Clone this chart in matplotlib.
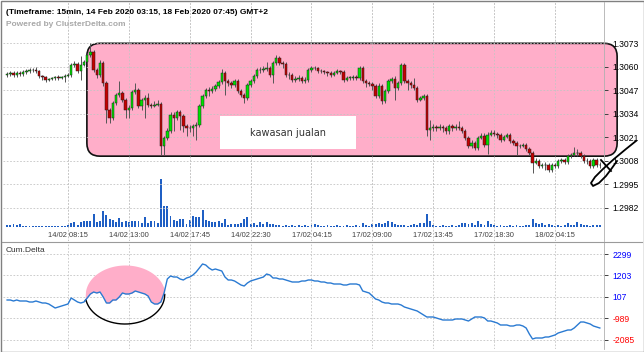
import numpy as np
import matplotlib
matplotlib.use('Agg')
import matplotlib.pyplot as plt
from matplotlib.patches import FancyBboxPatch, Rectangle
from matplotlib.lines import Line2D
from matplotlib.transforms import IdentityTransform, blended_transform_factory

plt.rcParams['font.family'] = ['Liberation Sans', 'DejaVu Sans']

# ---------------- data ----------------
closes = [1.30560, 1.30565, 1.30554, 1.30565, 1.30560, 1.30571, 1.30576, 1.30582, 1.30582, 1.30576,
          1.30549, 1.30543, 1.30526, 1.30532, 1.30538, 1.30543, 1.30538, 1.30543, 1.30549, 1.30554,
          1.30610, 1.30615, 1.30576, 1.30610, 1.30626, 1.30665, 1.30682, 1.30582, 1.30554, 1.30621,
          1.30510, 1.30360, 1.30316, 1.30399, 1.30443, 1.30454, 1.30416, 1.30360, 1.30371, 1.30460,
          1.30471, 1.30382, 1.30416, 1.30427, 1.30388, 1.30382, 1.30388, 1.30394, 1.30161, 1.30205,
          1.30244, 1.30333, 1.30316, 1.30349, 1.30327, 1.30271, 1.30260, 1.30260, 1.30271, 1.30277,
          1.30382, 1.30438, 1.30471, 1.30465, 1.30477, 1.30493, 1.30515, 1.30565, 1.30521, 1.30510,
          1.30499, 1.30521, 1.30465, 1.30443, 1.30427, 1.30499, 1.30521, 1.30549, 1.30582, 1.30582,
          1.30587, 1.30593, 1.30554, 1.30621, 1.30648, 1.30621, 1.30615, 1.30554, 1.30554, 1.30526,
          1.30532, 1.30538, 1.30521, 1.30526, 1.30582, 1.30593, 1.30593, 1.30576, 1.30576, 1.30571,
          1.30565, 1.30554, 1.30565, 1.30576, 1.30571, 1.30526, 1.30538, 1.30538, 1.30543, 1.30538,
          1.30593, 1.30521, 1.30510, 1.30504, 1.30493, 1.30438, 1.30493, 1.30410, 1.30465, 1.30521,
          1.30532, 1.30482, 1.30510, 1.30610, 1.30521, 1.30510, 1.30499, 1.30482, 1.30416, 1.30427,
          1.30438, 1.30249, 1.30260, 1.30266, 1.30260, 1.30266, 1.30260, 1.30244, 1.30271, 1.30260,
          1.30266, 1.30260, 1.30244, 1.30205, 1.30161, 1.30177, 1.30149, 1.30205, 1.30216, 1.30166,
          1.30222, 1.30233, 1.30227, 1.30222, 1.30194, 1.30210, 1.30222, 1.30188, 1.30177, 1.30161,
          1.30161, 1.30166, 1.30144, 1.30122, 1.30066, 1.30077, 1.30050, 1.30055, 1.30055, 1.30027,
          1.30055, 1.30050, 1.30077, 1.30083, 1.30072, 1.30105, 1.30111, 1.30122, 1.30122, 1.30105,
          1.30077, 1.30077, 1.30050, 1.30083, 1.30055, 1.30055]
first_open = 1.30554

highs = [1.30571, 1.30576, 1.30576, 1.30576, 1.30576, 1.30582, 1.30587, 1.30593, 1.30593, 1.30599,
         1.30582, 1.30554, 1.30549, 1.30538, 1.30543, 1.30549, 1.30554, 1.30549, 1.30560, 1.30565,
         1.30621, 1.30632, 1.30626, 1.30660, 1.30637, 1.30676, 1.30732, 1.30693, 1.30593, 1.30637,
         1.30632, 1.30521, 1.30371, 1.30410, 1.30454, 1.30521, 1.30465, 1.30427, 1.30388, 1.30471,
         1.30510, 1.30482, 1.30427, 1.30443, 1.30454, 1.30399, 1.30410, 1.30416, 1.30405, 1.30216,
         1.30260, 1.30349, 1.30349, 1.30360, 1.30360, 1.30338, 1.30283, 1.30277, 1.30283, 1.30294,
         1.30394, 1.30449, 1.30482, 1.30488, 1.30493, 1.30504, 1.30526, 1.30587, 1.30576, 1.30532,
         1.30521, 1.30532, 1.30532, 1.30477, 1.30454, 1.30510, 1.30532, 1.30560, 1.30593, 1.30599,
         1.30604, 1.30626, 1.30604, 1.30632, 1.30665, 1.30660, 1.30632, 1.30626, 1.30571, 1.30565,
         1.30549, 1.30554, 1.30549, 1.30543, 1.30593, 1.30604, 1.30604, 1.30599, 1.30587, 1.30582,
         1.30576, 1.30576, 1.30576, 1.30587, 1.30582, 1.30582, 1.30549, 1.30549, 1.30554, 1.30554,
         1.30604, 1.30604, 1.30532, 1.30521, 1.30515, 1.30504, 1.30510, 1.30504, 1.30477, 1.30532,
         1.30543, 1.30549, 1.30521, 1.30621, 1.30621, 1.30532, 1.30521, 1.30538, 1.30493, 1.30438,
         1.30449, 1.30449, 1.30305, 1.30283, 1.30277, 1.30283, 1.30277, 1.30271, 1.30283, 1.30283,
         1.30283, 1.30299, 1.30271, 1.30255, 1.30216, 1.30194, 1.30188, 1.30216, 1.30233, 1.30233,
         1.30238, 1.30249, 1.30249, 1.30238, 1.30233, 1.30222, 1.30233, 1.30233, 1.30199, 1.30188,
         1.30172, 1.30177, 1.30177, 1.30155, 1.30133, 1.30094, 1.30088, 1.30066, 1.30072, 1.30066,
         1.30066, 1.30066, 1.30088, 1.30094, 1.30094, 1.30116, 1.30122, 1.30155, 1.30144, 1.30133,
         1.30116, 1.30094, 1.30088, 1.30094, 1.30094, 1.30072]

lows = [1.30543, 1.30549, 1.30543, 1.30543, 1.30549, 1.30549, 1.30560, 1.30565, 1.30571, 1.30565,
        1.30538, 1.30526, 1.30515, 1.30521, 1.30526, 1.30526, 1.30526, 1.30532, 1.30515, 1.30543,
        1.30543, 1.30599, 1.30565, 1.30526, 1.30604, 1.30621, 1.30654, 1.30571, 1.30538, 1.30543,
        1.30493, 1.30288, 1.30288, 1.30305, 1.30388, 1.30432, 1.30405, 1.30316, 1.30316, 1.30360,
        1.30449, 1.30371, 1.30360, 1.30316, 1.30377, 1.30371, 1.30377, 1.30382, 1.30111, 1.30111,
        1.30194, 1.30233, 1.30244, 1.30305, 1.30249, 1.30238, 1.30216, 1.30238, 1.30216, 1.30194,
        1.30266, 1.30371, 1.30427, 1.30438, 1.30454, 1.30465, 1.30482, 1.30504, 1.30443, 1.30493,
        1.30482, 1.30488, 1.30454, 1.30432, 1.30399, 1.30416, 1.30488, 1.30510, 1.30538, 1.30565,
        1.30571, 1.30576, 1.30543, 1.30510, 1.30610, 1.30610, 1.30593, 1.30543, 1.30532, 1.30515,
        1.30515, 1.30521, 1.30510, 1.30510, 1.30515, 1.30571, 1.30582, 1.30565, 1.30565, 1.30560,
        1.30549, 1.30543, 1.30549, 1.30560, 1.30560, 1.30515, 1.30521, 1.30526, 1.30526, 1.30526,
        1.30526, 1.30510, 1.30488, 1.30493, 1.30471, 1.30427, 1.30427, 1.30394, 1.30399, 1.30454,
        1.30510, 1.30416, 1.30471, 1.30499, 1.30510, 1.30471, 1.30482, 1.30471, 1.30405, 1.30410,
        1.30416, 1.30216, 1.30194, 1.30244, 1.30244, 1.30249, 1.30238, 1.30227, 1.30227, 1.30244,
        1.30249, 1.30249, 1.30233, 1.30194, 1.30149, 1.30149, 1.30138, 1.30138, 1.30199, 1.30155,
        1.30116, 1.30216, 1.30216, 1.30205, 1.30183, 1.30188, 1.30205, 1.30177, 1.30166, 1.30111,
        1.30149, 1.30155, 1.30133, 1.30111, 1.30011, 1.30061, 1.30039, 1.30039, 1.30027, 1.30016,
        1.30016, 1.30039, 1.30039, 1.30066, 1.30061, 1.30061, 1.30094, 1.30105, 1.30105, 1.30094,
        1.30066, 1.30061, 1.30039, 1.30039, 1.30044, 1.30039]

volumes = [2, 2, 3, 2, 3, 1, 1, 1, 1, 1, 1, 1, 1, 1, 1, 1, 1, 1, 1, 2,
           4, 5, 2, 5, 6, 6, 6, 13, 5, 6, 16, 12, 8, 7, 5, 9, 5, 6, 5, 6,
           6, 6, 4, 10, 4, 6, 6, 4, 48, 21, 21, 11, 7, 6, 8, 8, 3, 7, 11, 10,
           10, 17, 7, 6, 5, 5, 6, 4, 8, 2, 3, 3, 3, 4, 8, 10, 3, 4, 2, 5,
           3, 5, 3, 3, 2, 2, 1, 2, 1, 2, 1, 2, 1, 2, 1, 2, 3, 2, 1, 1,
           2, 1, 1, 2, 1, 1, 2, 1, 1, 2, 1, 4, 2, 1, 3, 3, 4, 3, 4, 6,
           5, 3, 2, 2, 2, 1, 2, 3, 2, 4, 4, 13, 6, 2, 1, 1, 2, 1, 1, 2,
           1, 2, 4, 4, 3, 4, 2, 6, 3, 2, 6, 3, 2, 1, 2, 1, 1, 2, 1, 2,
           1, 1, 2, 2, 8, 4, 3, 4, 2, 3, 2, 1, 2, 1, 2, 4, 2, 2, 5, 3,
           2, 2, 1, 2, 2, 2]

cum_delta = [-47, -47, -98, -47, -98, -98, -98, -149, -149, -98,
             -149, -200, -200, -251, -353, -455, -404, -353, -302, -251,
             55, -47, -149, -200, -149, 55, 259, 361, 310, 361,
             106, -200, -200, -47, -47, 106, 310, 259, 259, 310,
             412, 361, 310, 259, 157, -149, -251, -251, -149, 310,
             1024, 1177, 1126, 1126, 1024, 973, 1075, 1126, 1228, 1381,
             1585, 1789, 1738, 1585, 1483, 1534, 1483, 1432, 1126, 973,
             973, 922, 820, 718, 667, 820, 922, 973, 1024, 1075,
             1126, 1279, 1228, 1075, 1075, 1024, 1024, 973, 922, 871,
             871, 871, 922, 922, 973, 973, 922, 922, 871, 871,
             820, 820, 769, 769, 769, 718, 718, 769, 769, 769,
             718, 412, 361, 310, 157, 4, -47, -149, -200, -200,
             -251, -251, -251, -302, -404, -455, -506, -557, -608, -710,
             -812, -914, -914, -914, -965, -1016, -1067, -1067, -1067, -1067,
             -1016, -1016, -1016, -1067, -1118, -1016, -914, -914, -914, -965,
             -1118, -1118, -1169, -1220, -1322, -1322, -1322, -1373, -1373, -1322,
             -1322, -1373, -1475, -1781, -2036, -1985, -1985, -1985, -1934, -1934,
             -1883, -1832, -1730, -1679, -1628, -1577, -1577, -1475, -1322, -1169,
             -1169, -1220, -1271, -1373, -1424, -1475]

time_tick_bars = [19, 38, 57, 76, 95, 114, 133, 152, 171]
time_tick_labels = ["14/02 08:15", "14/02 13:00", "14/02 17:45", "14/02 22:30", "17/02 04:15",
                    "17/02 09:00", "17/02 13:45", "17/02 18:30", "18/02 04:15"]
price_ticks = [1.2982, 1.2995, 1.3008, 1.3021, 1.3034, 1.3047, 1.3060, 1.3073]
delta_ticks = [2299, 1203, 107, -989, -2085]

title = "(Timeframe: 15min, 14 Feb 2020 03:15, 18 Feb 2020 07:45) GMT+2"
subtitle = "Powered by ClusterDelta.com"
note = "kawasan jualan"

# ---------------- figure ----------------
W, H = 644, 352
fig = plt.figure(figsize=(W / 100, H / 100), dpi=100)
fig.patch.set_facecolor('white')


def rect(l, t, r, b):
    return [l / W, 1 - b / H, (r - l) / W, (b - t) / H]


ax_v = fig.add_axes(rect(3, 2, 604, 241))
ax1 = fig.add_axes(rect(3, 2, 604, 241))
ax2 = fig.add_axes(rect(3, 242, 604, 349))
ax_v.set_zorder(0)
ax1.set_zorder(1)
ax1.patch.set_alpha(0)

n = len(closes)
x = np.arange(n)
opens = np.array([first_open] + closes[:-1])
c = np.array(closes)
XL = (-1.28, 186.3)
for a in (ax_v, ax1, ax2):
    a.set_xlim(*XL)

ax1.set_ylim(1.29635, 1.30959)
ax_v.set_ylim(-14, 225)
ax2.set_ylim(-2546, 2911)

grid_kw = dict(color='#c4c4c4', lw=0.6, ls=(0, (2, 2)), zorder=1)
for p in price_ticks:
    ax1.axhline(p, **grid_kw)
for d in delta_ticks:
    ax2.axhline(d, **grid_kw)
for t in time_tick_bars:
    ax1.axvline(t, **grid_kw)
    ax2.axvline(t, **grid_kw)
    ax_v.axvline(t, **grid_kw)

# volume
ax_v.bar(x, volumes, width=0.6, color='#1f5fc4', zorder=2)
ax_v.axis('off')

# pink sell zone box (annotation)
fig.canvas.draw()
x0, y0 = ax1.transData.transform((24.9, 1.30105))
x1, y1 = ax1.transData.transform((190.4, 1.3073))
box = FancyBboxPatch((x0, y0), x1 - x0, y1 - y0,
                     boxstyle='round,pad=0,rounding_size=13',
                     transform=IdentityTransform(), facecolor='#FFAEC9',
                     edgecolor='#111111', lw=1.2, zorder=0.5, clip_on=False)
ax1.add_patch(box)

# white note box
ax1.add_patch(Rectangle((66.4, 1.30144), 42.5, 0.00183, facecolor='white',
                        edgecolor='none', zorder=2))
ax1.text(87.6, 1.30236, note, ha='center', va='center', fontsize=7,
         family='DejaVu Sans', color='#333333', zorder=3)

# candles
up = c >= opens
colors = np.where(up, '#00e000', '#c40000')
bottoms = np.minimum(opens, c)
heights = np.maximum(np.abs(c - opens), 0.00003)
ax1.vlines(x, lows, highs, color='#555555', lw=0.7, zorder=3)
ax1.bar(x, heights, bottom=bottoms, width=0.75, color=colors,
        edgecolor='#202020', linewidth=0.35, zorder=4)

# time labels
trans = blended_transform_factory(ax1.transData, ax1.transAxes)
for t, lab in zip(time_tick_bars, time_tick_labels):
    ax1.text(t, 0.025, lab, transform=trans, ha='center', va='center',
             fontsize=5.4, color='#404040', zorder=5)

# axes styling
for a in (ax1, ax2):
    a.set_xticks([])
    for s in ('left', 'top', 'bottom'):
        a.spines[s].set_visible(False)
    a.spines['right'].set_color('#b0b0b0')
    a.spines['right'].set_linestyle((0, (1, 1)))
    a.spines['right'].set_linewidth(0.6)
    a.yaxis.tick_right()
    a.tick_params(axis='y', length=3, width=0.7, color='#404040', pad=3,
                  labelsize=6.2)

ax1.set_yticks(price_ticks)
ax1.set_yticklabels(['%.4f' % p for p in price_ticks])

ax2.set_yticks(delta_ticks)
ax2.set_yticklabels([str(d) for d in delta_ticks])
for lab, d in zip(ax2.get_yticklabels(), delta_ticks):
    lab.set_color('#0000ff' if d > 0 else '#ff0000')

# cum delta line
ax2.plot(x, cum_delta, color='#2a7ad2', lw=1.0, zorder=3)

# ellipse highlight on cum delta
cx, a_, cy, b_ = 36.8, 12.4, 233, 1505
xe = np.linspace(cx - a_, cx + a_, 300)
s = np.sqrt(np.clip(1 - ((xe - cx) / a_) ** 2, 0, 1))
top = cy + b_ * s
bot = cy - b_ * s
line_e = np.interp(xe, x, cum_delta)
ax2.fill_between(xe, line_e, top, where=top > line_e, color='#FFAEC9',
                 lw=0, zorder=2)
ax2.plot(xe, np.minimum(bot, line_e), color='black', lw=1.0, zorder=2.5)

# texts
fig.text(6 / W, 1 - 12 / H, title, fontsize=6, fontweight='bold',
         color='black', va='center', ha='left')
fig.text(6 / W, 1 - 25 / H, subtitle, fontsize=6, fontweight='bold',
         color='#a8a8a8', va='center', ha='left')
fig.text(6 / W, 1 - 251 / H, "Cum.Delta", fontsize=6, color='#303030',
         va='center', ha='left')

# hand scribble at right
sx = [636, 626, 614, 603, 595, 591, 593, 599, 606, 612, 617]
sy = [141, 149, 159, 169, 177, 183, 186, 183, 176, 168, 161]
fig.add_artist(Line2D([v / W for v in sx], [1 - v / H for v in sy],
                      transform=fig.transFigure, color='black', lw=1.3))
fig.add_artist(Line2D([601 / W, 611 / W], [1 - 160 / H, 1 - 171 / H],
                      transform=fig.transFigure, color='black', lw=1.3))

# separators and frame
fig.add_artist(Line2D([2 / W, 642 / W], [1 - 241.5 / H, 1 - 241.5 / H],
                      transform=fig.transFigure, color='#9a9a9a', lw=0.8))
fig.add_artist(Rectangle((0.5 / W, 0.5 / H), (W - 1) / W, (H - 1) / H,
                         transform=fig.transFigure, fill=False,
                         edgecolor='#808080', lw=1))

fig.savefig('out.png', dpi=100)
